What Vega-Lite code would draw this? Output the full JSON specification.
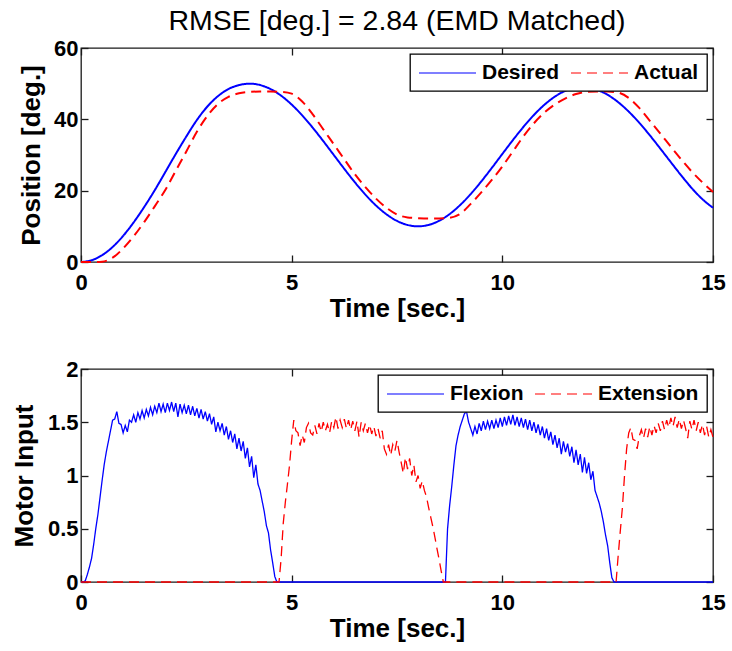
{
"$schema": "https://vega.github.io/schema/vega-lite/v6.json",
"padding": {"left": 10, "top": 5, "right": 6, "bottom": 4},
"spacing": 35,
"config": {
  "font": "Liberation Sans",
  "view": {"stroke": "#1a1a1a", "strokeWidth": 1.3},
  "axis": {"grid": false, "domain": false, "ticks": true, "tickColor": "#1a1a1a", "tickOpacity": 1, "tickSize": 7, "tickWidth": 1.3, "offset": -7, "zindex": 2,
    "labelFont": "Liberation Sans", "labelFontSize": 22, "labelFontWeight": "bold", "labelColor": "black", "labelFlush": false,
    "titleFont": "Liberation Sans", "titleFontSize": 26, "titleFontWeight": "bold", "titleColor": "black"},
  "legend": {"orient": "top-right", "offset": 6, "direction": "horizontal", "title": null, "strokeColor": "black", "fillColor": "white",
    "padding": 8, "symbolType": "M-2.85,0H2.85", "symbolSize": 400, "symbolOffset": 18.5, "symbolStrokeWidth": 1.2,
    "labelFont": "Liberation Sans", "labelFontSize": 21, "labelFontWeight": "bold", "labelColor": "black", "labelOffset": 23.5,
    "columnPadding": 8, "cornerRadius": 0, "strokeWidth": 1.3}
},
"datasets": {
"pos": [
{"t":0,"Desired":0,"Actual":0},{"t":0.25,"Desired":0.48,"Actual":0},{"t":0.5,"Desired":1.9,"Actual":0.1},{"t":0.75,"Desired":4.21,"Actual":1.2},
{"t":1,"Desired":7.32,"Actual":3.8},{"t":1.25,"Desired":11.11,"Actual":7.2},{"t":1.5,"Desired":15.43,"Actual":11.2},{"t":1.75,"Desired":20.12,"Actual":15.6},
{"t":2,"Desired":25.2,"Actual":20.2},{"t":2.25,"Desired":30.3,"Actual":25.6},{"t":2.5,"Desired":35.2,"Actual":31.0},{"t":2.75,"Desired":39.8,"Actual":36.5},
{"t":3,"Desired":43.6,"Actual":41.0},{"t":3.25,"Desired":46.5,"Actual":44.3},{"t":3.5,"Desired":48.5,"Actual":46.3},{"t":3.75,"Desired":49.6,"Actual":47.3},
{"t":4,"Desired":50,"Actual":47.7},{"t":4.25,"Desired":49.62,"Actual":47.8},{"t":4.5,"Desired":48.48,"Actual":47.8},{"t":4.75,"Desired":46.63,"Actual":47.7},
{"t":5,"Desired":44.14,"Actual":47.2},{"t":5.25,"Desired":41.11,"Actual":45.0},{"t":5.5,"Desired":37.65,"Actual":41.4},{"t":5.75,"Desired":33.9,"Actual":37.2},
{"t":6,"Desired":30,"Actual":33.0},{"t":6.25,"Desired":26.1,"Actual":28.8},{"t":6.5,"Desired":22.35,"Actual":24.6},{"t":6.75,"Desired":18.89,"Actual":21.0},
{"t":7,"Desired":15.86,"Actual":17.8},{"t":7.25,"Desired":13.37,"Actual":15.2},{"t":7.5,"Desired":11.52,"Actual":13.3},{"t":7.75,"Desired":10.38,"Actual":12.5},
{"t":8,"Desired":10,"Actual":12.3},{"t":8.25,"Desired":10.39,"Actual":12.2},{"t":8.5,"Desired":11.56,"Actual":12.2},{"t":8.75,"Desired":13.45,"Actual":12.4},
{"t":9,"Desired":15.99,"Actual":13.5},{"t":9.25,"Desired":19.06,"Actual":16.3},{"t":9.5,"Desired":22.58,"Actual":19.5},{"t":9.75,"Desired":26.37,"Actual":23.0},
{"t":10,"Desired":30.29,"Actual":26.8},{"t":10.25,"Desired":34.17,"Actual":31.0},{"t":10.5,"Desired":37.87,"Actual":35.2},{"t":10.75,"Desired":41.23,"Actual":38.9},
{"t":11,"Desired":44.1,"Actual":41.9},{"t":11.25,"Desired":46.39,"Actual":44.2},{"t":11.5,"Desired":48.01,"Actual":45.9},{"t":11.75,"Desired":48.84,"Actual":47.1},
{"t":12,"Desired":48.94,"Actual":47.7},{"t":12.25,"Desired":48.27,"Actual":47.8},{"t":12.5,"Desired":46.87,"Actual":47.8},{"t":12.75,"Desired":44.81,"Actual":47.5},
{"t":13,"Desired":42.16,"Actual":46.0},{"t":13.25,"Desired":39.03,"Actual":43.2},{"t":13.5,"Desired":35.53,"Actual":39.6},{"t":13.75,"Desired":31.79,"Actual":36.0},
{"t":14,"Desired":27.97,"Actual":32.3},{"t":14.25,"Desired":24.21,"Actual":28.7},{"t":14.5,"Desired":20.65,"Actual":25.3},{"t":14.75,"Desired":17.6,"Actual":22.3},
{"t":15,"Desired":15.2,"Actual":19.6}
],
"motor": [
{"t":0,"Flexion":0,"Extension":0},{"t":0.05,"Flexion":0,"Extension":0},{"t":0.1,"Flexion":0.01,"Extension":0},{"t":0.15,"Flexion":0.07,"Extension":0},
{"t":0.2,"Flexion":0.14,"Extension":0},{"t":0.25,"Flexion":0.22,"Extension":0},{"t":0.3,"Flexion":0.35,"Extension":0},{"t":0.35,"Flexion":0.5,"Extension":0},
{"t":0.4,"Flexion":0.63,"Extension":0},{"t":0.45,"Flexion":0.79,"Extension":0},{"t":0.5,"Flexion":0.95,"Extension":0},{"t":0.55,"Flexion":1.1,"Extension":0},
{"t":0.6,"Flexion":1.22,"Extension":0},{"t":0.65,"Flexion":1.32,"Extension":0},{"t":0.7,"Flexion":1.42,"Extension":0},{"t":0.75,"Flexion":1.52,"Extension":0},
{"t":0.8,"Flexion":1.53,"Extension":0},{"t":0.85,"Flexion":1.6,"Extension":0},{"t":0.9,"Flexion":1.49,"Extension":0},{"t":0.95,"Flexion":1.48,"Extension":0},
{"t":1,"Flexion":1.4,"Extension":0},{"t":1.05,"Flexion":1.47,"Extension":0},{"t":1.1,"Flexion":1.41,"Extension":0},{"t":1.15,"Flexion":1.52,"Extension":0},
{"t":1.2,"Flexion":1.5,"Extension":0},{"t":1.25,"Flexion":1.57,"Extension":0},{"t":1.3,"Flexion":1.5,"Extension":0},{"t":1.35,"Flexion":1.59,"Extension":0},
{"t":1.4,"Flexion":1.53,"Extension":0},{"t":1.45,"Flexion":1.61,"Extension":0},{"t":1.5,"Flexion":1.54,"Extension":0},{"t":1.55,"Flexion":1.62,"Extension":0},
{"t":1.6,"Flexion":1.56,"Extension":0},{"t":1.65,"Flexion":1.64,"Extension":0},{"t":1.7,"Flexion":1.57,"Extension":0},{"t":1.75,"Flexion":1.65,"Extension":0},
{"t":1.8,"Flexion":1.59,"Extension":0},{"t":1.85,"Flexion":1.68,"Extension":0},{"t":1.9,"Flexion":1.6,"Extension":0},{"t":1.95,"Flexion":1.67,"Extension":0},
{"t":2,"Flexion":1.59,"Extension":0},{"t":2.05,"Flexion":1.68,"Extension":0},{"t":2.1,"Flexion":1.61,"Extension":0},{"t":2.15,"Flexion":1.69,"Extension":0},
{"t":2.2,"Flexion":1.6,"Extension":0},{"t":2.25,"Flexion":1.68,"Extension":0},{"t":2.3,"Flexion":1.55,"Extension":0},{"t":2.35,"Flexion":1.67,"Extension":0},
{"t":2.4,"Flexion":1.59,"Extension":0},{"t":2.45,"Flexion":1.66,"Extension":0},{"t":2.5,"Flexion":1.58,"Extension":0},{"t":2.55,"Flexion":1.66,"Extension":0},
{"t":2.6,"Flexion":1.57,"Extension":0},{"t":2.65,"Flexion":1.65,"Extension":0},{"t":2.7,"Flexion":1.56,"Extension":0},{"t":2.75,"Flexion":1.63,"Extension":0},
{"t":2.8,"Flexion":1.54,"Extension":0},{"t":2.85,"Flexion":1.62,"Extension":0},{"t":2.9,"Flexion":1.53,"Extension":0},{"t":2.95,"Flexion":1.6,"Extension":0},
{"t":3,"Flexion":1.51,"Extension":0},{"t":3.05,"Flexion":1.58,"Extension":0},{"t":3.1,"Flexion":1.48,"Extension":0},{"t":3.15,"Flexion":1.55,"Extension":0},
{"t":3.2,"Flexion":1.41,"Extension":0},{"t":3.25,"Flexion":1.5,"Extension":0},{"t":3.3,"Flexion":1.42,"Extension":0},{"t":3.35,"Flexion":1.49,"Extension":0},
{"t":3.4,"Flexion":1.38,"Extension":0},{"t":3.45,"Flexion":1.46,"Extension":0},{"t":3.5,"Flexion":1.34,"Extension":0},{"t":3.55,"Flexion":1.42,"Extension":0},
{"t":3.6,"Flexion":1.31,"Extension":0},{"t":3.65,"Flexion":1.39,"Extension":0},{"t":3.7,"Flexion":1.25,"Extension":0},{"t":3.75,"Flexion":1.35,"Extension":0},
{"t":3.8,"Flexion":1.23,"Extension":0},{"t":3.85,"Flexion":1.32,"Extension":0},{"t":3.9,"Flexion":1.16,"Extension":0},{"t":3.95,"Flexion":1.26,"Extension":0},
{"t":4,"Flexion":1.08,"Extension":0},{"t":4.05,"Flexion":1.18,"Extension":0},{"t":4.1,"Flexion":0.98,"Extension":0},{"t":4.15,"Flexion":1.1,"Extension":0},
{"t":4.2,"Flexion":0.92,"Extension":0},{"t":4.25,"Flexion":0.86,"Extension":0},{"t":4.3,"Flexion":0.76,"Extension":0},{"t":4.35,"Flexion":0.66,"Extension":0},
{"t":4.4,"Flexion":0.53,"Extension":0},{"t":4.45,"Flexion":0.46,"Extension":0},{"t":4.5,"Flexion":0.3,"Extension":0},{"t":4.55,"Flexion":0.18,"Extension":0},
{"t":4.6,"Flexion":0.05,"Extension":0},{"t":4.65,"Flexion":0,"Extension":0},{"t":4.7,"Flexion":0,"Extension":0},{"t":4.75,"Flexion":0,"Extension":0.22},
{"t":4.8,"Flexion":0,"Extension":0.55},{"t":4.85,"Flexion":0,"Extension":0.75},{"t":4.9,"Flexion":0,"Extension":0.92},{"t":4.95,"Flexion":0,"Extension":1.1},
{"t":5,"Flexion":0,"Extension":1.33},{"t":5.05,"Flexion":0,"Extension":1.52},{"t":5.1,"Flexion":0,"Extension":1.42},{"t":5.15,"Flexion":0,"Extension":1.4},
{"t":5.2,"Flexion":0,"Extension":1.28},{"t":5.25,"Flexion":0,"Extension":1.38},{"t":5.3,"Flexion":0,"Extension":1.31},{"t":5.35,"Flexion":0,"Extension":1.45},
{"t":5.4,"Flexion":0,"Extension":1.49},{"t":5.45,"Flexion":0,"Extension":1.4},{"t":5.5,"Flexion":0,"Extension":1.38},{"t":5.55,"Flexion":0,"Extension":1.47},
{"t":5.6,"Flexion":0,"Extension":1.39},{"t":5.65,"Flexion":0,"Extension":1.49},{"t":5.7,"Flexion":0,"Extension":1.41},{"t":5.75,"Flexion":0,"Extension":1.5},
{"t":5.8,"Flexion":0,"Extension":1.42},{"t":5.85,"Flexion":0,"Extension":1.48},{"t":5.9,"Flexion":0,"Extension":1.4},{"t":5.95,"Flexion":0,"Extension":1.51},
{"t":6,"Flexion":0,"Extension":1.45},{"t":6.05,"Flexion":0,"Extension":1.55},{"t":6.1,"Flexion":0,"Extension":1.44},{"t":6.15,"Flexion":0,"Extension":1.52},
{"t":6.2,"Flexion":0,"Extension":1.45},{"t":6.25,"Flexion":0,"Extension":1.53},{"t":6.3,"Flexion":0,"Extension":1.44},{"t":6.35,"Flexion":0,"Extension":1.52},
{"t":6.4,"Flexion":0,"Extension":1.43},{"t":6.45,"Flexion":0,"Extension":1.51},{"t":6.5,"Flexion":0,"Extension":1.42},{"t":6.55,"Flexion":0,"Extension":1.51},
{"t":6.6,"Flexion":0,"Extension":1.36},{"t":6.65,"Flexion":0,"Extension":1.5},{"t":6.7,"Flexion":0,"Extension":1.42},{"t":6.75,"Flexion":0,"Extension":1.49},
{"t":6.8,"Flexion":0,"Extension":1.4},{"t":6.85,"Flexion":0,"Extension":1.48},{"t":6.9,"Flexion":0,"Extension":1.39},{"t":6.95,"Flexion":0,"Extension":1.46},
{"t":7,"Flexion":0,"Extension":1.37},{"t":7.05,"Flexion":0,"Extension":1.44},{"t":7.1,"Flexion":0,"Extension":1.35},{"t":7.15,"Flexion":0,"Extension":1.42},
{"t":7.2,"Flexion":0,"Extension":1.25},{"t":7.25,"Flexion":0,"Extension":1.2},{"t":7.3,"Flexion":0,"Extension":1.29},{"t":7.35,"Flexion":0,"Extension":1.19},
{"t":7.4,"Flexion":0,"Extension":1.29},{"t":7.45,"Flexion":0,"Extension":1.23},{"t":7.5,"Flexion":0,"Extension":1.33},{"t":7.55,"Flexion":0,"Extension":1.22},
{"t":7.6,"Flexion":0,"Extension":1.12},{"t":7.65,"Flexion":0,"Extension":1.02},{"t":7.7,"Flexion":0,"Extension":1.17},{"t":7.75,"Flexion":0,"Extension":1.06},
{"t":7.8,"Flexion":0,"Extension":1.16},{"t":7.85,"Flexion":0,"Extension":1.0},{"t":7.9,"Flexion":0,"Extension":1.1},{"t":7.95,"Flexion":0,"Extension":0.94},
{"t":8,"Flexion":0,"Extension":1.0},{"t":8.05,"Flexion":0,"Extension":0.88},{"t":8.1,"Flexion":0,"Extension":0.95},{"t":8.15,"Flexion":0,"Extension":0.86},
{"t":8.2,"Flexion":0,"Extension":0.8},{"t":8.25,"Flexion":0,"Extension":0.7},{"t":8.3,"Flexion":0,"Extension":0.61},{"t":8.35,"Flexion":0,"Extension":0.52},
{"t":8.4,"Flexion":0,"Extension":0.42},{"t":8.45,"Flexion":0,"Extension":0.31},{"t":8.5,"Flexion":0,"Extension":0.21},{"t":8.55,"Flexion":0,"Extension":0.1},
{"t":8.6,"Flexion":0,"Extension":0},{"t":8.65,"Flexion":0,"Extension":0},{"t":8.7,"Flexion":0.5,"Extension":0},{"t":8.75,"Flexion":0.72,"Extension":0},
{"t":8.8,"Flexion":0.9,"Extension":0},{"t":8.85,"Flexion":1.1,"Extension":0},{"t":8.9,"Flexion":1.28,"Extension":0},{"t":8.95,"Flexion":1.38,"Extension":0},
{"t":9,"Flexion":1.46,"Extension":0},{"t":9.05,"Flexion":1.52,"Extension":0},{"t":9.1,"Flexion":1.58,"Extension":0},{"t":9.15,"Flexion":1.6,"Extension":0},
{"t":9.2,"Flexion":1.5,"Extension":0},{"t":9.25,"Flexion":1.44,"Extension":0},{"t":9.3,"Flexion":1.38,"Extension":0},{"t":9.35,"Flexion":1.46,"Extension":0},
{"t":9.4,"Flexion":1.39,"Extension":0},{"t":9.45,"Flexion":1.49,"Extension":0},{"t":9.5,"Flexion":1.42,"Extension":0},{"t":9.55,"Flexion":1.51,"Extension":0},
{"t":9.6,"Flexion":1.43,"Extension":0},{"t":9.65,"Flexion":1.51,"Extension":0},{"t":9.7,"Flexion":1.44,"Extension":0},{"t":9.75,"Flexion":1.52,"Extension":0},
{"t":9.8,"Flexion":1.44,"Extension":0},{"t":9.85,"Flexion":1.52,"Extension":0},{"t":9.9,"Flexion":1.45,"Extension":0},{"t":9.95,"Flexion":1.54,"Extension":0},
{"t":10,"Flexion":1.46,"Extension":0},{"t":10.05,"Flexion":1.55,"Extension":0},{"t":10.1,"Flexion":1.47,"Extension":0},{"t":10.15,"Flexion":1.56,"Extension":0},
{"t":10.2,"Flexion":1.48,"Extension":0},{"t":10.25,"Flexion":1.57,"Extension":0},{"t":10.3,"Flexion":1.47,"Extension":0},{"t":10.35,"Flexion":1.55,"Extension":0},
{"t":10.4,"Flexion":1.46,"Extension":0},{"t":10.45,"Flexion":1.54,"Extension":0},{"t":10.5,"Flexion":1.45,"Extension":0},{"t":10.55,"Flexion":1.53,"Extension":0},
{"t":10.6,"Flexion":1.43,"Extension":0},{"t":10.65,"Flexion":1.52,"Extension":0},{"t":10.7,"Flexion":1.42,"Extension":0},{"t":10.75,"Flexion":1.5,"Extension":0},
{"t":10.8,"Flexion":1.4,"Extension":0},{"t":10.85,"Flexion":1.48,"Extension":0},{"t":10.9,"Flexion":1.38,"Extension":0},{"t":10.95,"Flexion":1.46,"Extension":0},
{"t":11,"Flexion":1.35,"Extension":0},{"t":11.05,"Flexion":1.44,"Extension":0},{"t":11.1,"Flexion":1.33,"Extension":0},{"t":11.15,"Flexion":1.41,"Extension":0},
{"t":11.2,"Flexion":1.29,"Extension":0},{"t":11.25,"Flexion":1.38,"Extension":0},{"t":11.3,"Flexion":1.26,"Extension":0},{"t":11.35,"Flexion":1.35,"Extension":0},
{"t":11.4,"Flexion":1.2,"Extension":0},{"t":11.45,"Flexion":1.32,"Extension":0},{"t":11.5,"Flexion":1.22,"Extension":0},{"t":11.55,"Flexion":1.3,"Extension":0},
{"t":11.6,"Flexion":1.18,"Extension":0},{"t":11.65,"Flexion":1.27,"Extension":0},{"t":11.7,"Flexion":1.12,"Extension":0},{"t":11.75,"Flexion":1.24,"Extension":0},
{"t":11.8,"Flexion":1.1,"Extension":0},{"t":11.85,"Flexion":1.2,"Extension":0},{"t":11.9,"Flexion":1.03,"Extension":0},{"t":11.95,"Flexion":1.17,"Extension":0},
{"t":12,"Flexion":1.02,"Extension":0},{"t":12.05,"Flexion":1.12,"Extension":0},{"t":12.1,"Flexion":0.96,"Extension":0},{"t":12.15,"Flexion":1.04,"Extension":0},
{"t":12.2,"Flexion":0.86,"Extension":0},{"t":12.25,"Flexion":0.8,"Extension":0},{"t":12.3,"Flexion":0.74,"Extension":0},{"t":12.35,"Flexion":0.66,"Extension":0},
{"t":12.4,"Flexion":0.56,"Extension":0},{"t":12.45,"Flexion":0.44,"Extension":0},{"t":12.5,"Flexion":0.34,"Extension":0},{"t":12.55,"Flexion":0.18,"Extension":0},
{"t":12.6,"Flexion":0.04,"Extension":0},{"t":12.65,"Flexion":0,"Extension":0},{"t":12.7,"Flexion":0,"Extension":0},{"t":12.75,"Flexion":0,"Extension":0.25},
{"t":12.8,"Flexion":0,"Extension":0.48},{"t":12.85,"Flexion":0,"Extension":0.7},{"t":12.9,"Flexion":0,"Extension":1},{"t":12.95,"Flexion":0,"Extension":1.25},
{"t":13,"Flexion":0,"Extension":1.4},{"t":13.05,"Flexion":0,"Extension":1.45},{"t":13.1,"Flexion":0,"Extension":1.34},{"t":13.15,"Flexion":0,"Extension":1.33},
{"t":13.2,"Flexion":0,"Extension":1.25},{"t":13.25,"Flexion":0,"Extension":1.37},{"t":13.3,"Flexion":0,"Extension":1.43},{"t":13.35,"Flexion":0,"Extension":1.35},
{"t":13.4,"Flexion":0,"Extension":1.44},{"t":13.45,"Flexion":0,"Extension":1.36},{"t":13.5,"Flexion":0,"Extension":1.46},{"t":13.55,"Flexion":0,"Extension":1.38},
{"t":13.6,"Flexion":0,"Extension":1.47},{"t":13.65,"Flexion":0,"Extension":1.4},{"t":13.7,"Flexion":0,"Extension":1.49},{"t":13.75,"Flexion":0,"Extension":1.42},
{"t":13.8,"Flexion":0,"Extension":1.51},{"t":13.85,"Flexion":0,"Extension":1.43},{"t":13.9,"Flexion":0,"Extension":1.52},{"t":13.95,"Flexion":0,"Extension":1.45},
{"t":14,"Flexion":0,"Extension":1.54},{"t":14.05,"Flexion":0,"Extension":1.46},{"t":14.1,"Flexion":0,"Extension":1.55},{"t":14.15,"Flexion":0,"Extension":1.45},
{"t":14.2,"Flexion":0,"Extension":1.53},{"t":14.25,"Flexion":0,"Extension":1.44},{"t":14.3,"Flexion":0,"Extension":1.52},{"t":14.35,"Flexion":0,"Extension":1.44},
{"t":14.4,"Flexion":0,"Extension":1.35},{"t":14.45,"Flexion":0,"Extension":1.51},{"t":14.5,"Flexion":0,"Extension":1.43},{"t":14.55,"Flexion":0,"Extension":1.52},
{"t":14.6,"Flexion":0,"Extension":1.42},{"t":14.65,"Flexion":0,"Extension":1.5},{"t":14.7,"Flexion":0,"Extension":1.4},{"t":14.75,"Flexion":0,"Extension":1.48},
{"t":14.8,"Flexion":0,"Extension":1.38},{"t":14.85,"Flexion":0,"Extension":1.46},{"t":14.9,"Flexion":0,"Extension":1.36},{"t":14.95,"Flexion":0,"Extension":1.43},
{"t":15,"Flexion":0,"Extension":1.36}
]
},
"vconcat": [
{
  "title": {"text": "RMSE [deg.] = 2.84 (EMD Matched)", "fontSize": 28.5, "fontWeight": "normal", "font": "Liberation Sans", "color": "black", "anchor": "middle", "frame": "group", "offset": 2},
  "width": 632, "height": 214,
  "data": {"name": "pos"},
  "transform": [{"fold": ["Desired", "Actual"], "as": ["series", "value"]}],
  "layer": [
    {"mark": {"type": "line", "strokeWidth": 2, "interpolate": "monotone"},
     "encoding": {
       "x": {"field": "t", "type": "quantitative", "scale": {"domain": [0, 15], "nice": false},
             "axis": {"title": "Time [sec.]", "values": [0, 5, 10, 15], "labelPadding": 10, "titlePadding": 2}},
       "y": {"field": "value", "type": "quantitative", "scale": {"domain": [0, 60], "nice": false},
             "axis": {"title": "Position [deg.]", "values": [0, 20, 40, 60], "labelPadding": 3, "titlePadding": 9}},
       "color": {"field": "series", "type": "nominal", "sort": ["Desired", "Actual"],
                 "scale": {"domain": ["Desired", "Actual"], "range": ["#0000ff", "#ff0000"]}, "legend": {"title": null}},
       "strokeDash": {"field": "series", "type": "nominal", "sort": ["Desired", "Actual"],
                 "scale": {"domain": ["Desired", "Actual"], "range": [[1, 0], [10, 6]]}, "legend": {"title": null}}
     }},
    {"mark": {"type": "line", "strokeOpacity": 0},
     "encoding": {
       "x": {"field": "t", "type": "quantitative", "axis": {"orient": "top", "labels": false, "title": null, "values": [0, 5, 10, 15]}},
       "y": {"field": "value", "type": "quantitative", "axis": {"orient": "right", "labels": false, "title": null, "values": [0, 20, 40, 60]}}
     }}
  ],
  "resolve": {"axis": {"x": "independent", "y": "independent"}}
},
{
  "width": 632, "height": 213,
  "data": {"name": "motor"},
  "transform": [{"fold": ["Flexion", "Extension"], "as": ["series", "value"]}],
  "layer": [
    {"mark": {"type": "line", "strokeWidth": 1.3},
     "encoding": {
       "x": {"field": "t", "type": "quantitative", "scale": {"domain": [0, 15], "nice": false},
             "axis": {"title": "Time [sec.]", "values": [0, 5, 10, 15], "labelPadding": 10, "titlePadding": 2}},
       "y": {"field": "value", "type": "quantitative", "scale": {"domain": [0, 2], "nice": false},
             "axis": {"title": "Motor Input", "values": [0, 0.5, 1, 1.5, 2], "labelExpr": "'' + datum.value", "labelPadding": 3, "titlePadding": 10}},
       "color": {"field": "series", "type": "nominal", "sort": ["Flexion", "Extension"],
                 "scale": {"domain": ["Flexion", "Extension"], "range": ["#0000ff", "#ff0000"]}, "legend": {"title": null}},
       "strokeDash": {"field": "series", "type": "nominal", "sort": ["Flexion", "Extension"],
                 "scale": {"domain": ["Flexion", "Extension"], "range": [[1, 0], [10, 6]]}, "legend": {"title": null}}
     }},
    {"mark": {"type": "line", "strokeOpacity": 0},
     "encoding": {
       "x": {"field": "t", "type": "quantitative", "axis": {"orient": "top", "labels": false, "title": null, "values": [0, 5, 10, 15]}},
       "y": {"field": "value", "type": "quantitative", "axis": {"orient": "right", "labels": false, "title": null, "values": [0, 0.5, 1, 1.5, 2]}}
     }}
  ],
  "resolve": {"axis": {"x": "independent", "y": "independent"}}
}
],
"resolve": {"scale": {"color": "independent", "strokeDash": "independent"}, "legend": {"color": "independent", "strokeDash": "independent"}}
}
